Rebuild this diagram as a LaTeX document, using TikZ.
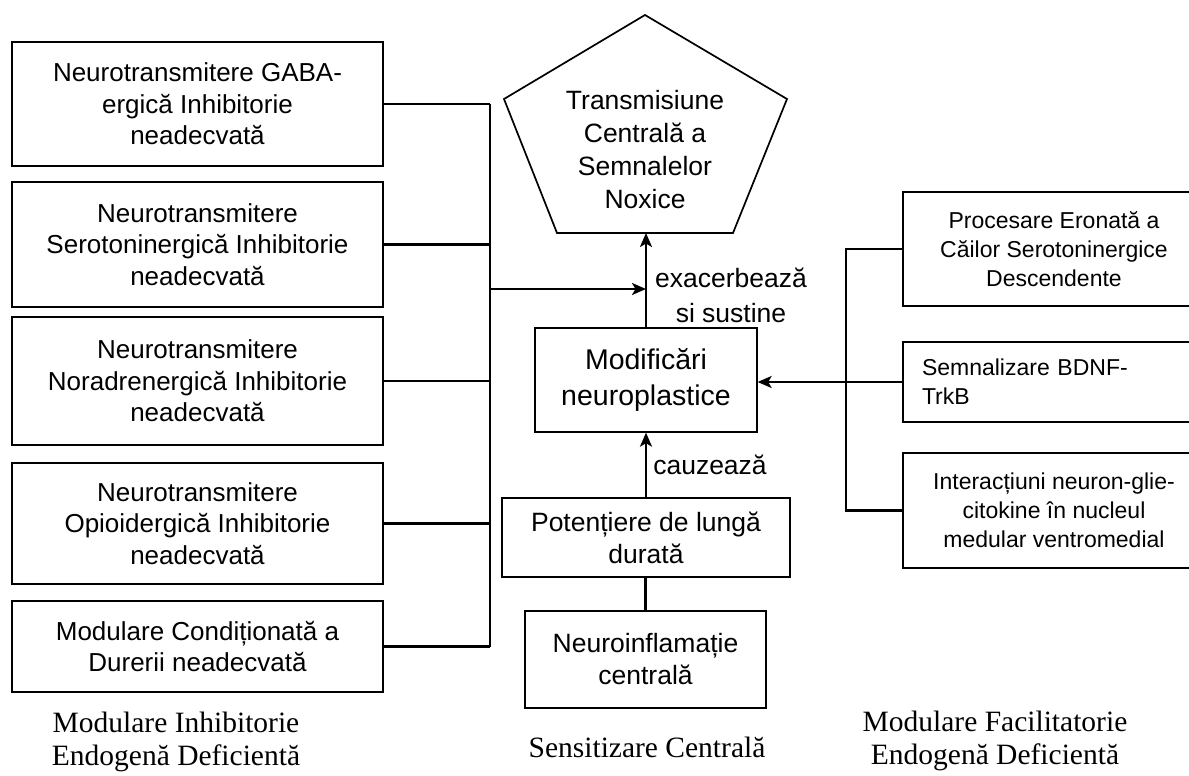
\documentclass[tikz,border=0pt]{standalone}
\usepackage{fontspec}
\setmainfont{Liberation Serif}
\newfontfamily\arial{Liberation Sans}
\usetikzlibrary{arrows.meta}
\begin{document}
\begin{tikzpicture}[x=1pt,y=-1pt,
  lbox/.style={draw, line width=1.3pt, inner sep=0pt, align=center,
    minimum width=371pt, font=\arial\fontsize{26}{31.5}\selectfont},
  cbox/.style={draw, line width=1.3pt, inner sep=0pt, align=center,
    font=\arial\fontsize{26.5}{32}\selectfont},
  rbox/.style={draw, line width=1.3pt, inner sep=0pt, align=center,
    minimum width=302pt, font=\arial\fontsize{23}{29}\selectfont},
  lbl/.style={inner sep=0pt, align=center, font=\arial\fontsize{26.5}{35}\selectfont},
  caption/.style={inner sep=0pt, align=center, font=\fontsize{29.5}{33.5}\selectfont},
  conn/.style={line width=2.2pt},
  arr/.style={conn, -{Stealth[length=14pt,width=12pt,inset=3.5pt]}}]
\clip (0,0) rectangle (1189,776);

% left column: deficient inhibitory mechanisms
\node[lbox, minimum height=124pt] (l1) at (197.5,104)
  {Neurotransmitere GABA-\\ergică Inhibitorie\\neadecvată};
\node[lbox, minimum height=125pt] (l2) at (197.5,244.5)
  {Neurotransmitere\\Serotoninergică Inhibitorie\\neadecvată};
\node[lbox, minimum height=128pt] (l3) at (197.5,381)
  {Neurotransmitere\\Noradrenergică Inhibitorie\\neadecvată};
\node[lbox, minimum height=121pt] (l4) at (197.5,523.5)
  {Neurotransmitere\\Opioidergică Inhibitorie\\neadecvată};
\node[lbox, minimum height=91pt] (l5) at (197.5,646.5)
  {Modulare Condiționată a\\Durerii neadecvată};

% central target: pentagon
\draw[line width=1.7pt] (645,15) -- (787,99) -- (733,233) -- (557,233) -- (504,99) -- cycle;
\coordinate (pentb) at (645,233);
\node[lbl, font=\arial\fontsize{26.5}{33}\selectfont] (pent) at (645,150)
  {Transmisiune\\Centrală a\\Semnalelor\\Noxice};

% central column: sensitization chain
\node[cbox, minimum width=222pt, minimum height=104pt,
  font=\arial\fontsize{28.5}{36}\selectfont] (modif) at (646,380)
  {Modificări\\neuroplastice};
\node[cbox, minimum width=288pt, minimum height=79pt] (poten) at (646,537.5)
  {Potențiere de lungă\\durată};
\node[cbox, minimum width=241pt, minimum height=97pt] (neuro) at (645.5,659.5)
  {Neuroinflamație\\centrală};

% right column: facilitatory mechanisms
\node[rbox, minimum height=114pt] (r1) at (1054,249)
  {Procesare Eronată a\\Căilor Serotoninergice\\Descendente};
\node[rbox, minimum height=80pt, inner xsep=19pt, text width=264pt, align=left] (r2) at (1054,382)
  {Semnalizare BDNF-\\TrkB};
\node[rbox, minimum height=115pt] (r3) at (1054,510.5)
  {Interacțiuni neuron-glie-\\citokine în nucleul\\medular ventromedial};

% left bus
\coordinate (lb) at (490,289);
\foreach \b in {l1,l2,l3,l4,l5}
  \draw[conn] (\b.east) -- (\b.east -| lb);
\draw[conn] (l1.east -| lb) -- (l5.east -| lb);
\draw[arr] (lb) -- (lb -| modif.north);

% central arrows
\draw[arr] (modif.north) -- (modif.north |- pentb);
\draw[arr] (poten.north) -- (poten.north |- modif.south);
\draw[conn] (neuro.north) -- (neuro.north |- poten.south);

% right bus
\coordinate (rb) at (846,382);
\draw[conn] (r1.west) -- (r1.west -| rb) -- (r3.west -| rb) -- (r3.west);
\draw[arr] (r2.west) -- (r2.west -| modif.east);

% connector labels
\node[lbl] (exa) at (731,295) {exacerbează\\si sustine};
\node[lbl] (cau) at (710,465) {cauzează};

% group captions
\node[caption] (capL) at (176,742) {Modulare Inhibitorie\\Endogenă Deficientă};
\node[caption] (capC) at (647,747) {Sensitizare Centrală};
\node[caption] (capR) at (995,741) {Modulare Facilitatorie\\Endogenă Deficientă};
\end{tikzpicture}
\end{document}
